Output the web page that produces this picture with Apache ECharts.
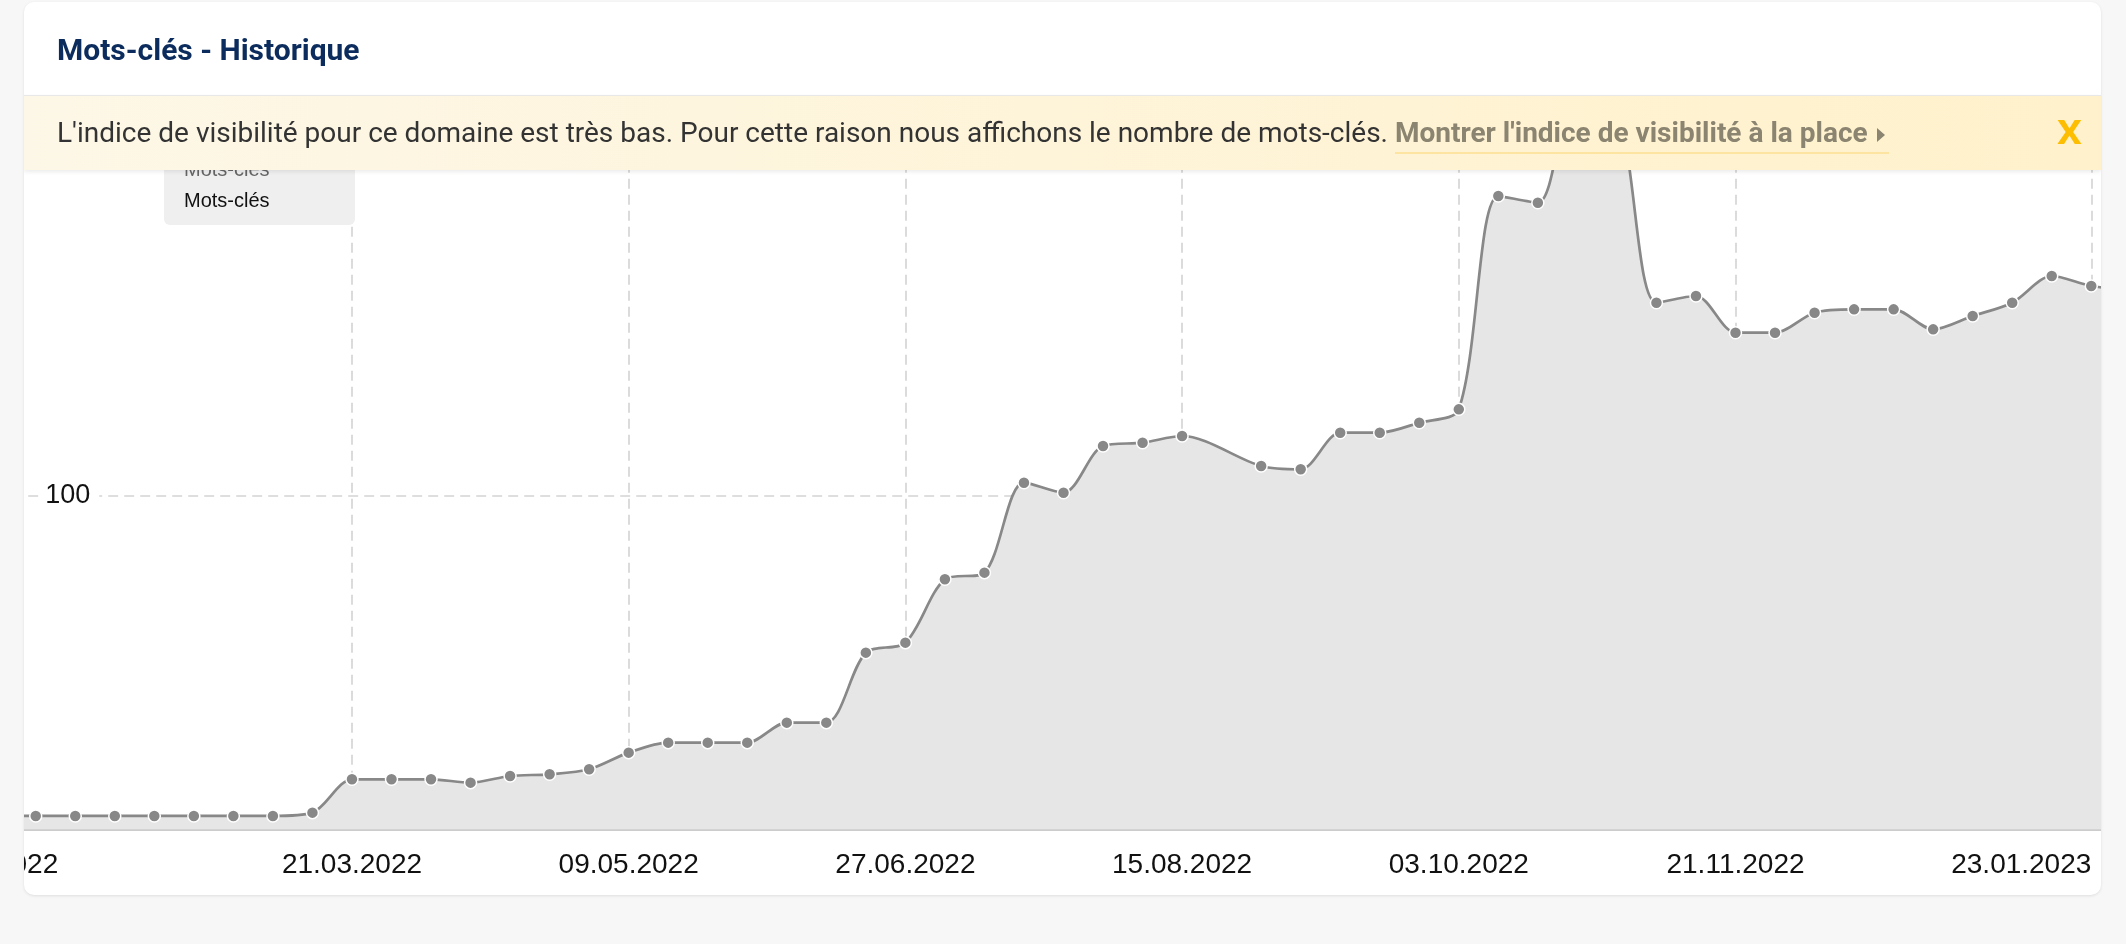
<!DOCTYPE html>
<html>
<head>
<meta charset="utf-8">
<script src="https://cdn.jsdelivr.net/npm/echarts@6/dist/echarts.min.js"></script>
<style>
  html, body { margin:0; padding:0; }
  body { width:2126px; height:944px; background:#f7f7f7; position:relative; overflow:hidden; font-family:Roboto, "Noto Sans", sans-serif; }
  #card { position:absolute; left:24px; top:2px; width:2077px; height:893px; background:#fff; border-radius:10px; overflow:hidden; box-shadow:0 1px 3px rgba(0,0,0,0.10); }
  #chart { position:absolute; left:-64px; top:-2px; width:2220px; height:944px; }
  #title { position:absolute; left:33px; top:33px; font-family:Roboto, sans-serif; font-weight:700; font-size:30px; line-height:30px; color:#0b2c5c; white-space:nowrap; }
  #banner { position:absolute; left:0; top:93px; width:2077px; height:74px; border-top:1px solid #e8e8e8; background:linear-gradient(90deg, #fdf7e7 0%, #fef4d9 50%, #fff1cb 100%); box-shadow:0 2px 4px rgba(0,0,0,0.08); z-index:5; }
  #bText { position:absolute; left:33px; top:0px; font-family:Roboto, sans-serif; font-size:28px; line-height:74px; color:#333; white-space:nowrap; }
  #bLink { position:absolute; left:1371px; top:0px; font-family:Roboto, sans-serif; font-weight:700; font-size:28px; line-height:74px; color:#8a8470; white-space:nowrap; }
  #bLink .tri { display:inline-block; width:0; height:0; border-left:8px solid #8a8470; border-top:7px solid transparent; border-bottom:7px solid transparent; margin-left:9px; vertical-align:0px; }
  #bUnder { position:absolute; left:1371px; top:56px; width:494px; height:2px; background:#fde4a0; }
  #bClose { position:absolute; left:2033px; top:19px; font-family:Roboto, sans-serif; font-weight:700; font-size:34px; line-height:34px; color:#fdbd00; transform:scaleX(1.15); transform-origin:left center; }
</style>
</head>
<body>
<div id="card">
  <div id="chart"></div>
  <div id="title">Mots-clés - Historique</div>
  <div id="banner">
    <div id="bText">L'indice de visibilité pour ce domaine est très bas. Pour cette raison nous affichons le nombre de mots-clés.</div>
    <div id="bLink">Montrer l'indice de visibilité à la place<span class="tri"></span></div>
    <div id="bUnder"></div>
    <div id="bClose">X</div>
  </div>
</div>
<script>
// Weekly dates (Mondays)
const dates = [
  '17.01.2022','24.01.2022','31.01.2022','07.02.2022','14.02.2022','21.02.2022','28.02.2022','07.03.2022',
  '14.03.2022','21.03.2022','28.03.2022','04.04.2022','11.04.2022','18.04.2022','25.04.2022','02.05.2022',
  '09.05.2022','16.05.2022','23.05.2022','30.05.2022','06.06.2022','13.06.2022','20.06.2022','27.06.2022',
  '04.07.2022','11.07.2022','18.07.2022','25.07.2022','01.08.2022','08.08.2022','15.08.2022','22.08.2022',
  '29.08.2022','05.09.2022','12.09.2022','19.09.2022','26.09.2022','03.10.2022','10.10.2022','17.10.2022',
  '24.10.2022','31.10.2022','07.11.2022','14.11.2022','21.11.2022','28.11.2022','05.12.2022','12.12.2022',
  '19.12.2022','26.12.2022','02.01.2023','09.01.2023','16.01.2023','23.01.2023','30.01.2023'
];
// Number of keywords (Mots-clés), one value per week; null = missing week
const keywords = [
  4, 4, 4, 4, 4, 4, 4, 4,
  5, 15, 15, 15, 14, 16, 16.5, 18,
  23, 26, 26, 26, 32, 32, 53, 56,
  75, 77, 104, 101, 115, 116, 118, null,
  109, 108, 119, 119, 122, 126, 190, 188,
  222, 216, 158, 160, 149, 149, 155, 156,
  156, 150, 154, 158, 166, 163, 162
];
// Dates shown as x-axis tick labels
const tickLabels = ['17.01.2022','21.03.2022','09.05.2022','27.06.2022','15.08.2022','03.10.2022','21.11.2022','23.01.2023'];
const seriesName = 'Mots-clés';
const legendItems = ['Mots-clés', 'Mots-clés'];

const chart = echarts.init(document.getElementById('chart'), null, {renderer:'canvas'});
const showTick = (idx, val) => tickLabels.indexOf(dates[idx]) >= 0;
const lastLabel = tickLabels[tickLabels.length - 1];
const firstLabel = tickLabels[0];
const labelFont = 'Liberation Sans, Arial, sans-serif';

const option = {
  animation: false,
  grid: { left: 36.2, right: 49.2, top: 162.7, bottom: 114.7, containLabel: false, outerBoundsMode: 'none' },
  xAxis: {
    type: 'category',
    data: dates,
    boundaryGap: false,
    axisLine: { lineStyle: { color: '#cccccc', width: 2 } },
    axisTick: { show: false },
    axisLabel: {
      interval: showTick,
      fontSize: 28,
      fontFamily: labelFont,
      color: '#111',
      margin: 22,
      hideOverlap: false,
      formatter: function (v) {
        if (v === lastLabel) return '{r|' + v + '}';
        if (v === firstLabel) return '{l|' + v + '}';
        return v;
      },
      rich: {
        r: { fontSize: 28, fontFamily: labelFont, color: '#111', padding: [0, 140, 0, 0] },
        l: { fontSize: 28, fontFamily: labelFont, color: '#111', padding: [0, 16, 0, 0] }
      }
    },
    splitLine: { show: true, interval: showTick, lineStyle: { type: [10, 6], color: '#d0d0d0', width: 1.5 } }
  },
  yAxis: {
    type: 'value',
    min: 0, max: 200, interval: 100,
    axisLine: { show: false },
    axisTick: { show: false },
    axisLabel: {
      inside: true, margin: 46, showMinLabel: false,
      fontSize: 27, fontFamily: labelFont, color: '#111',
      backgroundColor: '#ffffff', padding: [2, 9, 2, 3]
    },
    splitLine: { lineStyle: { type: [10, 6], color: '#d4d4d4', width: 1.5 } }
  },
  series: [{
    name: seriesName,
    type: 'line',
    data: keywords,
    smooth: 0.3,
    connectNulls: true,
    showAllSymbol: true,
    symbol: 'circle',
    symbolSize: 12,
    itemStyle: { color: '#888888', borderColor: '#ffffff', borderWidth: 1.5 },
    lineStyle: { color: '#888888', width: 2.7 },
    areaStyle: { color: '#e6e6e6', opacity: 1 },
    z: 3
  }],
  graphic: [
    { type: 'rect', z: 50, shape: { x: 204, y: 130, width: 191, height: 95, r: 6 }, style: { fill: '#efefef' } },
    { type: 'text', z: 51, x: 224, y: 170, style: { text: legendItems[0], fontSize: 20, fontFamily: labelFont, fill: '#666', verticalAlign: 'middle' } },
    { type: 'text', z: 51, x: 224, y: 201, style: { text: legendItems[1], fontSize: 20, fontFamily: labelFont, fill: '#111', verticalAlign: 'middle' } }
  ]
};
chart.setOption(option);
</script>
</body>
</html>
